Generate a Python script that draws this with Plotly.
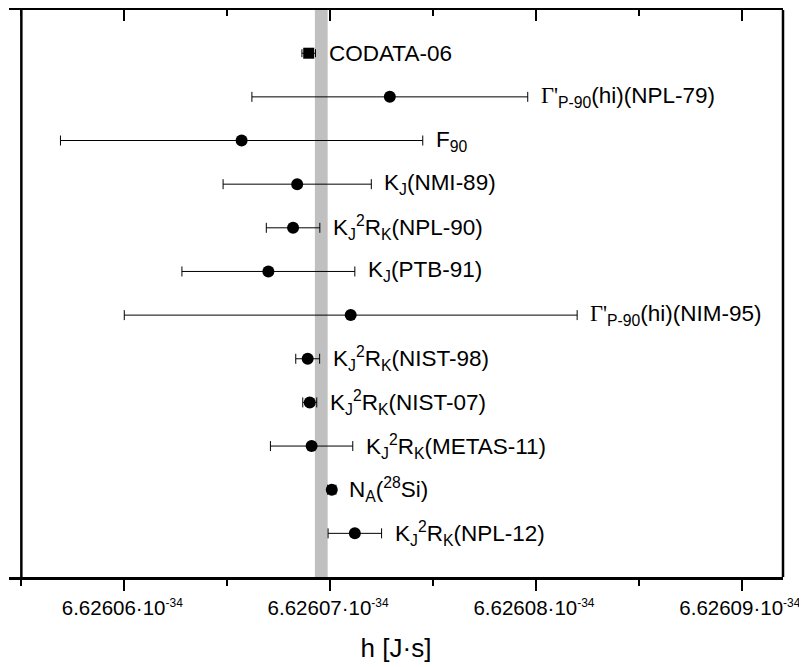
import plotly.graph_objects as go

# Data (h in units of 1e-34 J·s)
keys = ["CODATA-06", "NPL-79", "F90", "NMI-89", "NPL-90", "PTB-91", "NIM-95",
        "NIST-98", "NIST-07", "METAS-11", "NA-28Si", "NPL-12"]
labels = [
    "CODATA-06",
    "<span style=\"font-family:'Liberation Serif'\">Γ'</span><sub>P-90</sub>(hi)(NPL-79)",
    "F<sub>90</sub>",
    "K<sub>J</sub>(NMI-89)",
    "K<sub>J</sub><sup>2</sup>R<sub>K</sub>(NPL-90)",
    "K<sub>J</sub>(PTB-91)",
    "<span style=\"font-family:'Liberation Serif'\">Γ'</span><sub>P-90</sub>(hi)(NIM-95)",
    "K<sub>J</sub><sup>2</sup>R<sub>K</sub>(NIST-98)",
    "K<sub>J</sub><sup>2</sup>R<sub>K</sub>(NIST-07)",
    "K<sub>J</sub><sup>2</sup>R<sub>K</sub>(METAS-11)",
    "N<sub>A</sub>(<sup>28</sup>Si)",
    "K<sub>J</sub><sup>2</sup>R<sub>K</sub>(NPL-12)",
]
values = [6.62606896, 6.6260729, 6.6260657, 6.6260684, 6.6260682, 6.6260670,
          6.6260710, 6.62606891, 6.62606901, 6.6260691, 6.62607008, 6.6260712]
uncert = [0.00000033, 0.0000067, 0.0000088, 0.0000036, 0.0000013, 0.0000042,
          0.0000110, 0.00000058, 0.00000034, 0.0000020, 0.00000020, 0.0000013]

band_center = 6.62606957
band_halfwidth = 0.00000031

tick_vals = [6.62606, 6.62607, 6.62608, 6.62609]
tick_text = [f"{v:.5f}·10<sup><span style='font-size:12px'>-34</span></sup>" for v in tick_vals]
minor_vals = [6.626055, 6.626065, 6.626075, 6.626085]

x_range = [6.6260544, 6.6260920]
axis_left = 6.626055

fig = go.Figure()

fig.add_trace(go.Scatter(
    x=values[:1], y=keys[:1], mode="markers",
    marker=dict(symbol="square", size=11, color="black"),
    error_x=dict(type="data", array=uncert[:1], color="black", thickness=1, width=4),
    showlegend=False, cliponaxis=False,
))
fig.add_trace(go.Scatter(
    x=values[1:], y=keys[1:], mode="markers",
    marker=dict(symbol="circle", size=12, color="black"),
    error_x=dict(type="data", array=uncert[1:], color="black", thickness=1, width=5),
    showlegend=False, cliponaxis=False,
))
# invisible trace on top axis to enable mirror ticks
fig.add_trace(go.Scatter(x=[values[0]], y=[keys[0]], xaxis="x2", mode="markers",
                         marker=dict(opacity=0), showlegend=False, hoverinfo="skip"))

for k, lab, v, u in zip(keys, labels, values, uncert):
    fig.add_annotation(x=v + u, y=k, text=lab, showarrow=False,
                       xanchor="left", yanchor="middle", xshift=11,
                       font=dict(size=22.5, color="black", family="Liberation Sans"))

fig.add_shape(type="rect", xref="x", yref="paper",
              x0=band_center - band_halfwidth, x1=band_center + band_halfwidth,
              y0=0, y1=1, fillcolor="#c0c0c0", line=dict(width=0), layer="below")
fig.add_shape(type="line", xref="x", yref="paper", x0=axis_left, x1=axis_left,
              y0=0, y1=1, line=dict(color="black", width=2.5))
fig.add_shape(type="line", xref="paper", yref="paper", x0=1, x1=1,
              y0=0, y1=1, line=dict(color="black", width=2.5))

fig.update_layout(
    width=807, height=659,
    margin=dict(l=1, r=32, t=2, b=90),
    plot_bgcolor="white", paper_bgcolor="white",
    font=dict(family="Liberation Sans", color="black"),
    xaxis=dict(
        range=x_range, showgrid=False, zeroline=False,
        showline=True, linecolor="black", linewidth=2.5,
        tickmode="array", tickvals=tick_vals, ticktext=tick_text,
        ticklabeloverflow="allow", ticklabelshift=-2,
        ticks="outside", ticklen=11, tickwidth=2, tickcolor="black",
        tickfont=dict(size=20.5, family="Liberation Sans"),
        minor=dict(tickmode="array", tickvals=minor_vals, ticks="outside",
                   ticklen=6, tickwidth=2, tickcolor="black"),
        title=dict(text="h [J·s]", font=dict(size=26, family="Liberation Sans"), standoff=21),
    ),
    xaxis2=dict(
        overlaying="x", side="top", matches="x", showgrid=False, zeroline=False,
        showline=True, linecolor="black", linewidth=2.5,
        tickmode="array", tickvals=tick_vals, showticklabels=False,
        ticks="inside", ticklen=11, tickwidth=2, tickcolor="black",
        minor=dict(tickmode="array", tickvals=minor_vals, ticks="inside",
                   ticklen=6, tickwidth=2, tickcolor="black"),
    ),
    yaxis=dict(
        type="category", categoryorder="array", categoryarray=keys,
        range=[12.0, -0.99], showgrid=False, zeroline=False,
        showticklabels=False, ticks="", showline=False,
    ),
)

fig.write_html("out.html")
